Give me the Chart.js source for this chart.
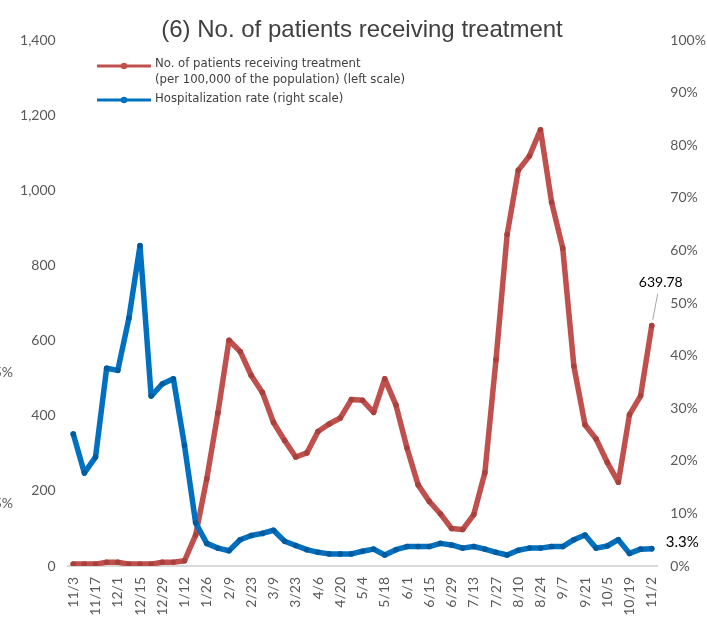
<!DOCTYPE html>
<html>
<head>
<meta charset="utf-8">
<script src="https://cdn.jsdelivr.net/npm/chart.js@4.4.1/dist/chart.umd.min.js"></script>
<style>
  body { margin: 0; background: #fff; }
  #wrap { width: 707px; height: 636px; position: relative; }
</style>
</head>
<body>
<div id="wrap"><canvas id="patientsChart"></canvas></div>
<script>
// weekly dates, every other one is shown on the axis
const weeks = ['11/3', '11/10', '11/17', '11/24', '12/1', '12/8', '12/15', '12/22', '12/29', '1/5',
    '1/12', '1/19', '1/26', '2/2', '2/9', '2/16', '2/23', '3/2', '3/9', '3/16',
    '3/23', '3/30', '4/6', '4/13', '4/20', '4/27', '5/4', '5/11', '5/18', '5/25',
    '6/1', '6/8', '6/15', '6/22', '6/29', '7/6', '7/13', '7/20', '7/27', '8/3',
    '8/10', '8/17', '8/24', '8/31', '9/7', '9/14', '9/21', '9/28', '10/5', '10/12',
    '10/19', '10/26', '11/2'];

// patients receiving treatment per 100,000 (left scale)
const patients = [5, 5, 5, 10, 10, 5, 5, 5, 10, 10,
    14, 82, 232, 407, 601, 571, 507, 462, 382, 334,
    290, 301, 358, 378, 394, 443, 441, 409, 498, 429,
    314, 216, 172, 139, 100, 97, 137, 248, 549, 882,
    1053, 1091, 1161, 968, 846, 532, 376, 338, 276, 223,
    403, 453, 639.78];

// hospitalization rate in % (right scale)
const hospRate = [25.1, 17.7, 20.7, 37.6, 37.2, 47.1, 60.9, 32.3, 34.6, 35.6,
    22.9, 8.2, 4.3, 3.4, 2.9, 5.0, 5.8, 6.2, 6.8, 4.7,
    3.9, 3.1, 2.6, 2.3, 2.3, 2.3, 2.8, 3.2, 2.1, 3.1,
    3.7, 3.7, 3.7, 4.3, 4.0, 3.4, 3.7, 3.2, 2.6, 2.1,
    3.0, 3.4, 3.4, 3.7, 3.7, 5.0, 5.9, 3.4, 3.8, 5.0,
    2.4, 3.2, 3.3];

const leftTicks = [0, 200, 400, 600, 800, 1000, 1200, 1400];
const rightTicks = [0, 10, 20, 30, 40, 50, 60, 70, 80, 90, 100];

const RED = '#C0504D';
const BLUE = '#0070C0';
const GREY = '#595959';
const tickFont = { family: 'Lato, "Liberation Sans", sans-serif', size: 14 };

// title, legend and the end-point labels
const decorations = {
    id: 'decorations',
    afterDraw(chart) {
        const ctx = chart.ctx;
        ctx.save();

        ctx.fillStyle = '#404040';
        ctx.font = '24px "Liberation Sans", Arial, sans-serif';
        ctx.textAlign = 'center';
        ctx.textBaseline = 'middle';
        ctx.fillText('(6) No. of patients receiving treatment', 362, 30);

        // legend
        const legendFont = '13px "Liberation Sans Narrow", "DejaVu Sans Condensed", sans-serif';
        const rows = [
            { color: RED, y: 66, lines: ['No. of patients receiving treatment', '(per 100,000 of the population) (left scale)'], ty: 64 },
            { color: BLUE, y: 100, lines: ['Hospitalization rate (right scale)'], ty: 99 }
        ];
        rows.forEach(r => {
            ctx.strokeStyle = r.color;
            ctx.lineWidth = 3;
            ctx.beginPath();
            ctx.moveTo(97, r.y);
            ctx.lineTo(151, r.y);
            ctx.stroke();
            ctx.fillStyle = r.color;
            ctx.beginPath();
            ctx.arc(124, r.y, 3.2, 0, Math.PI * 2);
            ctx.fill();
            ctx.fillStyle = '#404040';
            ctx.font = legendFont;
            ctx.textAlign = 'left';
            ctx.textBaseline = 'middle';
            r.lines.forEach((t, i) => ctx.fillText(t, 155, r.ty + i * 16));
        });

        // labels on the last point
        const last = weeks.length - 1;
        const pRed = chart.getDatasetMeta(0).data[last];
        const pBlue = chart.getDatasetMeta(1).data[last];
        ctx.strokeStyle = '#a6a6a6';
        ctx.lineWidth = 1;
        ctx.beginPath();
        ctx.moveTo(pRed.x + 6, pRed.y - 32);
        ctx.lineTo(pRed.x + 1, pRed.y - 6);
        ctx.stroke();
        ctx.fillStyle = '#000';
        ctx.font = '14px Lato, sans-serif';
        ctx.textAlign = 'center';
        ctx.fillText(patients[last].toFixed(2), pRed.x + 9, pRed.y - 43);
        ctx.textAlign = 'left';
        ctx.font = '15px Lato, sans-serif';
        ctx.fillText(hospRate[last].toFixed(1) + '%', pBlue.x + 14, pBlue.y - 6);

        // clipped labels from the neighbouring chart
        ctx.fillStyle = GREY;
        ctx.font = '14px Lato, sans-serif';
        ctx.textAlign = 'right';
        ctx.fillText('25%', 13, 372);
        ctx.fillText('15%', 13, 503);
        ctx.restore();
    }
};

const ctx = document.getElementById('patientsChart').getContext('2d');
const patientsChart = new Chart(ctx, {
    type: 'line',
    data: {
        labels: weeks,
        datasets: [{
            label: 'No. of patients receiving treatment (per 100,000 of the population) (left scale)',
            data: patients,
            yAxisID: 'y',
            borderColor: RED,
            borderWidth: 5.5,
            borderJoinStyle: 'round',
            borderCapStyle: 'round',
            pointRadius: 2.8,
            pointBorderWidth: 0,
            pointBackgroundColor: '#A8403D',
            order: 1
        }, {
            label: 'Hospitalization rate (right scale)',
            data: hospRate,
            yAxisID: 'y1',
            borderColor: BLUE,
            borderWidth: 5.5,
            borderJoinStyle: 'round',
            borderCapStyle: 'round',
            pointRadius: 2.8,
            pointBorderWidth: 0,
            pointBackgroundColor: '#005A9E',
            order: 0
        }]
    },
    options: {
        responsive: true,
        maintainAspectRatio: false,
        animation: false,
        layout: { padding: { top: 40, left: 0, right: 0, bottom: 0 } },
        plugins: {
            legend: { display: false },
            title: { display: false },
            tooltip: { enabled: false }
        },
        scales: {
            x: {
                offset: true,
                grid: { display: false, drawTicks: false, offset: true },
                border: { display: true, color: '#d9d9d9', width: 2 },
                ticks: {
                    autoSkip: false,
                    minRotation: 90,
                    maxRotation: 90,
                    padding: 11,
                    color: GREY,
                    font: tickFont,
                    callback: (v, i) => (i % 2 === 0 ? weeks[i] : '')
                },
                afterFit: s => { s.height = 70; }
            },
            y: {
                position: 'left',
                min: leftTicks[0],
                max: leftTicks[leftTicks.length - 1],
                afterBuildTicks: s => { s.ticks = leftTicks.map(v => ({ value: v })); },
                grid: { display: false, drawTicks: false },
                border: { display: false },
                ticks: {
                    padding: 12,
                    color: GREY,
                    font: tickFont,
                    callback: v => v.toLocaleString('en-US')
                },
                afterFit: s => { s.width = 67.7; }
            },
            y1: {
                position: 'right',
                min: rightTicks[0],
                max: rightTicks[rightTicks.length - 1],
                afterBuildTicks: s => { s.ticks = rightTicks.map(v => ({ value: v })); },
                grid: { display: false, drawTicks: false },
                border: { display: false },
                ticks: {
                    padding: 13,
                    color: GREY,
                    font: tickFont,
                    callback: v => v + '%'
                },
                afterFit: s => { s.width = 49.7; }
            }
        }
    },
    plugins: [decorations]
});
</script>
</body>
</html>
